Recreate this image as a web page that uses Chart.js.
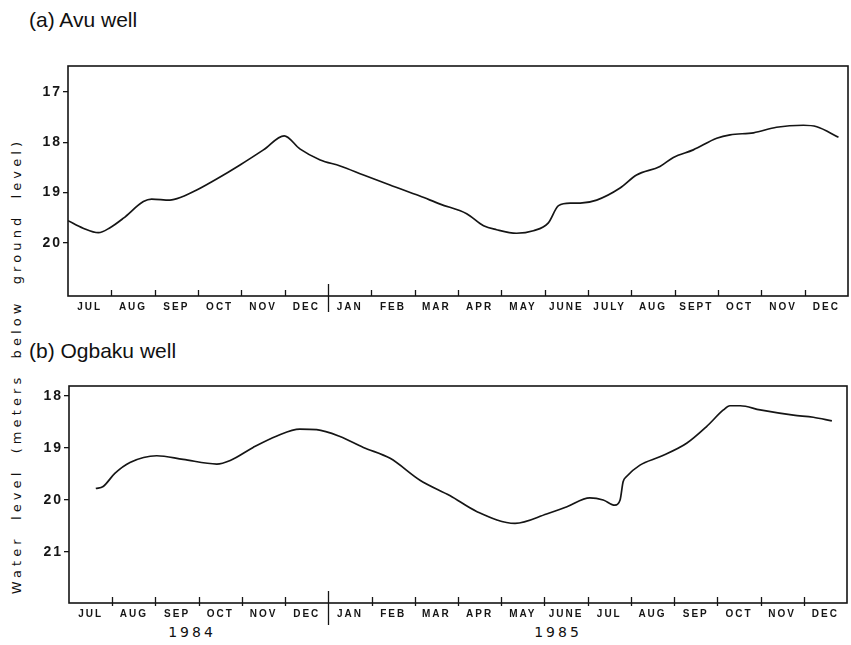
<!DOCTYPE html>
<html>
<head>
<meta charset="utf-8">
<script src="https://cdn.jsdelivr.net/npm/chart.js@4.4.1/dist/chart.umd.min.js"></script>
<style>
  html, body { margin: 0; padding: 0; background: #fff; }
  #wrap { position: relative; width: 851px; height: 645px; overflow: hidden; background: #fff; }
  canvas { position: absolute; left: 0; }
  .title { position: absolute; left: 29px; font: 21px "Liberation Sans", Arial, sans-serif; color: #111; line-height: 26px; white-space: nowrap; }
  .ytitle { position: absolute; left: 16px; top: 366px; transform: translate(-50%, -50%) rotate(-90deg);
            font: 13px "DejaVu Sans", sans-serif; letter-spacing: 4.1px; word-spacing: 7px; color: #111; white-space: nowrap; }
  .year { position: absolute; top: 624px; font: 14px "DejaVu Sans", sans-serif; letter-spacing: 3px; color: #111; transform: translateX(-50%); }
</style>
</head>
<body>
<div id="wrap">
  <div class="title" style="top:7px">(a) Avu well</div>
  <div class="title" style="top:338px">(b) Ogbaku well</div>
  <div class="ytitle">Water level (meters below ground level)</div>
  <div class="year" style="left:192px">1984</div>
  <div class="year" style="left:558px">1985</div>
  <canvas id="avu" width="851" height="270" style="top:50px"></canvas>
  <canvas id="ogbaku" width="851" height="275" style="top:370px"></canvas>
</div>
<script>
// Month labels along each time axis (July 1984 – December 1985)
const avuMonthLabels = ['JUL','AUG','SEP','OCT','NOV','DEC','JAN','FEB','MAR','APR','MAY','JUNE','JULY','AUG','SEPT','OCT','NOV','DEC'];
const ogbakuMonthLabels = ['JUL','AUG','SEP','OCT','NOV','DEC','JAN','FEB','MAR','APR','MAY','JUNE','JUL','AUG','SEP','OCT','NOV','DEC'];

// Depth-axis tick labels (metres below ground level)
const avuDepthTicks = [17, 18, 19, 20];
const ogbakuDepthTicks = [18, 19, 20, 21];

// Avu well: time in months since 1 July 1984, water level in metres
const avuMonths = [0, 0.35, 0.70, 0.97, 1.28, 1.74, 1.93, 2.35, 2.62, 2.97, 3.43, 3.97, 4.51, 4.99,
  5.35, 5.82, 6.28, 6.82, 7.43, 8.12, 8.59, 9.20, 9.59, 9.89, 10.35, 10.74, 11.08, 11.32, 11.59,
  11.82, 12.20, 12.74, 13.12, 13.66, 13.97, 14.43, 14.97, 15.28, 15.82, 16.35, 16.97, 17.28, 17.78];
const avuLevels = [19.56, 19.71, 19.80, 19.70, 19.51, 19.18, 19.13, 19.15, 19.09, 18.95, 18.73, 18.45, 18.15, 17.87,
  18.13, 18.35, 18.47, 18.65, 18.85, 19.07, 19.23, 19.42, 19.66, 19.74, 19.81, 19.76, 19.61, 19.26, 19.21,
  19.21, 19.15, 18.91, 18.65, 18.48, 18.30, 18.15, 17.92, 17.85, 17.81, 17.70, 17.66, 17.69, 17.90];

// Ogbaku well: time in months since 1 July 1984, water level in metres
const ogbakuMonths = [0.62, 0.79, 1.06, 1.41, 2.03, 2.64, 3.42, 3.73, 4.26, 4.81, 5.34, 5.73, 6.27, 6.81,
  7.43, 8.12, 8.82, 9.43, 10.32, 11.05, 11.52, 12.05, 12.36, 12.63, 12.75, 12.82, 12.90, 13.21, 13.67,
  14.29, 14.75, 15.14, 15.29, 15.53, 15.99, 16.76, 17.22, 17.65];
const ogbakuLevels = [19.78, 19.74, 19.49, 19.28, 19.15, 19.22, 19.31, 19.24, 18.99, 18.77, 18.64, 18.65, 18.78, 18.99,
  19.20, 19.62, 19.92, 20.22, 20.45, 20.27, 20.13, 19.96, 20.00, 20.10, 20.00, 19.65, 19.55, 19.33, 19.17,
  18.91, 18.59, 18.27, 18.19, 18.19, 18.27, 18.37, 18.41, 18.48];

const INK = '#151515';

// Frame around the plot, inward month ticks and the year divider
const framePlugin = {
  id: 'frame',
  beforeDraw(chart) { chart.ctx.letterSpacing = '2px'; },
  afterDraw(chart, args, opts) {
    const { ctx, chartArea: a } = chart;
    const xs = chart.scales.x;
    ctx.save();
    ctx.letterSpacing = '0px';
    ctx.strokeStyle = INK;
    ctx.lineWidth = 1.6;
    ctx.strokeRect(a.left, a.top, a.right - a.left, a.bottom - a.top);
    ctx.lineWidth = 1.3;
    ctx.beginPath();
    for (let m = 1; m < xs.max; m++) {
      const px = Math.round(xs.getPixelForValue(m)) + 0.5;
      ctx.moveTo(px, a.bottom - 6);
      ctx.lineTo(px, a.bottom + opts.below);
    }
    const dx = Math.round(xs.getPixelForValue(opts.yearBreak)) + 0.5;
    ctx.moveTo(dx, a.bottom - 12);
    ctx.lineTo(dx, a.bottom + opts.dividerBelow);
    ctx.stroke();
    ctx.restore();
  }
};

function makeChart(id, months, levels, monthLabels, depthTicks, yMin, yMax, axisWidth, axisHeight, rightPad, below, dividerBelow) {
  return new Chart(document.getElementById(id), {
    type: 'line',
    data: {
      datasets: [{
        data: months.map((m, i) => ({ x: m, y: levels[i] })),
        borderColor: INK,
        borderWidth: 1.7,
        pointRadius: 0,
        cubicInterpolationMode: 'monotone',
        fill: false
      }]
    },
    options: {
      responsive: false,
      animation: false,
      devicePixelRatio: 1,
      layout: { padding: { top: 16, right: rightPad, left: 0, bottom: 0 } },
      plugins: {
        legend: { display: false },
        tooltip: { enabled: false },
        frame: { yearBreak: 6, below: below, dividerBelow: dividerBelow }
      },
      scales: {
        x: {
          type: 'linear',
          min: 0,
          max: monthLabels.length,
          afterBuildTicks(scale) { scale.ticks = monthLabels.map((_, i) => ({ value: i + 0.5 })); },
          afterFit(scale) { scale.height = axisHeight; },
          grid: { display: false, drawTicks: false },
          border: { display: false },
          ticks: {
            autoSkip: false,
            maxRotation: 0,
            padding: 5,
            color: INK,
            font: { family: '"Liberation Sans", Arial, sans-serif', size: 10, weight: 'bold' },
            callback: (v, i) => monthLabels[i]
          }
        },
        y: {
          type: 'linear',
          reverse: true,
          min: yMin,
          max: yMax,
          afterBuildTicks(scale) { scale.ticks = depthTicks.map(v => ({ value: v })); },
          afterFit(scale) { scale.width = axisWidth; },
          grid: { drawOnChartArea: false, drawTicks: true, tickLength: 5, color: INK, lineWidth: 1.3 },
          border: { display: false },
          ticks: {
            padding: 1,
            color: INK,
            font: { family: '"Liberation Sans", Arial, sans-serif', size: 14, weight: 'bold' },
            callback: v => String(v)
          }
        }
      }
    },
    plugins: [framePlugin]
  });
}

makeChart('avu', avuMonths, avuLevels, avuMonthLabels, avuDepthTicks, 16.48, 21.06, 68, 24, 3, 0, 16);
makeChart('ogbaku', ogbakuMonths, ogbakuLevels, ogbakuMonthLabels, ogbakuDepthTicks, 17.81, 21.98, 69, 42, 4, 3, 22);
</script>
</body>
</html>
